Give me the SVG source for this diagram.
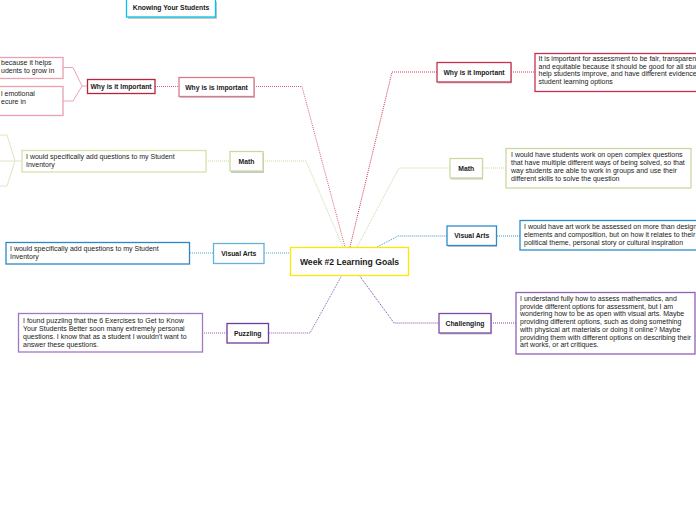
<svg xmlns="http://www.w3.org/2000/svg" width="696" height="520" viewBox="0 0 696 520">
<style>
text{font-family:"Liberation Sans",Arial,sans-serif;font-size:7px;fill:#1a1a1a}
.lbl{text-anchor:middle;font-weight:bold;font-size:6.8px}
.box{fill:#fff;stroke-width:1.3}
.sh{fill:#c8c8c8}
.c{fill:none;stroke-width:1;stroke-dasharray:1 1}
.s{fill:none;stroke-width:1}
</style>
<rect width="696" height="520" fill="#fff"/>
<g id="connectors">
<path class="c" stroke="#d9607e" d="M254 86.5H302L345 247"/>
<path class="c" stroke="#d9607e" d="M155 86.5H179"/>
<path class="s" stroke="#eaa5b4" d="M87 86L82 86L73 67.5H63M82 86L73 101H63"/>
<path class="c" stroke="#d9364f" d="M350 247L392 72H437"/>
<path class="c" stroke="#d9364f" d="M511 72H535"/>
<path class="c" stroke="#cbd79e" d="M263 161H306L343 247"/>
<path class="c" stroke="#cbd79e" d="M206 161H230"/>
<path class="s" stroke="#dfe6bf" d="M22 161H15L7 135H0M15 161H0M15 161L7 186H0"/>
<path class="c" stroke="#cbd79e" d="M357 247L399 168H450"/>
<path class="c" stroke="#cbd79e" d="M483 168H506"/>
<path class="c" stroke="#3a93cc" d="M377 247L398 236H447"/>
<path class="c" stroke="#3a93cc" d="M497 236H520"/>
<path class="c" stroke="#5aa6d6" d="M264 253H290M190 253H213"/>
<path class="c" stroke="#8a5cb4" d="M342 275L310 333H269M227 333H203"/>
<path class="c" stroke="#7a44a8" d="M359 275L394 323H439M491 323H516"/>
</g>
<g id="central">
<rect class="box" x="290.5" y="247.5" width="118" height="28" stroke="#ffe600" stroke-width="2"/>
<text x="349.5" y="265" text-anchor="middle" font-weight="bold" style="font-size:8.6px">Week #2 Learning Goals</text>
</g>
<g id="knowing">
<rect class="sh" x="128" y="2" width="89" height="17"/>
<rect class="box" x="126.5" y="-1" width="89" height="18" stroke="#00c4ef" stroke-width="1.6"/>
<text class="lbl" x="171" y="9.5">Knowing Your Students</text>
</g>
<g id="why-is-is">
<rect class="sh" x="180" y="79" width="75" height="19"/>
<rect class="box" x="179" y="77.5" width="75" height="19" stroke="#d77a8e" stroke-width="1.6"/>
<text class="lbl" x="216.5" y="89.5">Why is is important</text>
</g>
<g id="why-left">
<rect class="box" x="87.5" y="79.5" width="67.5" height="14" stroke="#b8233f"/>
<text class="lbl" x="121" y="89">Why is it Important</text>
</g>
<g id="pink-detail-1">
<rect class="box" x="-5" y="57.5" width="68" height="21" stroke="#eaa0b0"/>
<text x="1" y="65">because it helps</text>
<text x="1" y="73">udents to grow in</text>
</g>
<g id="pink-detail-2">
<rect class="box" x="-5" y="86.5" width="68" height="29" stroke="#eaa0b0"/>
<text x="1" y="96">l emotional</text>
<text x="1" y="104">ecure in</text>
</g>
<g id="why-right">
<rect class="sh" x="438" y="63.5" width="74" height="20"/>
<rect class="box" x="437" y="62.5" width="74" height="19.5" stroke="#c8304d"/>
<text class="lbl" x="474" y="74.5">Why is it Important</text>
</g>
<g id="why-right-detail">
<rect class="box" x="535" y="53.5" width="170" height="38" stroke="#c8304d"/>
<text x="538.5" y="61">It is important for assessment to be fair, transparent</text>
<text x="538.5" y="68.5">and equitable because it should be good for all students,</text>
<text x="538.5" y="76">help students improve, and have different evidence of</text>
<text x="538.5" y="83.5">student learning options</text>
</g>
<g id="math-left">
<rect class="sh" x="231" y="153" width="33" height="20"/>
<rect class="box" x="230" y="151.5" width="33" height="19.5" stroke="#cdd8a0"/>
<text class="lbl" x="246.5" y="163.5">Math</text>
</g>
<g id="math-left-detail">
<rect class="box" x="22" y="150.5" width="184" height="21.5" stroke="#d7e0b0" stroke-width="1.6"/>
<text x="26" y="159">I would specifically add questions to my Student</text>
<text x="26" y="167">Inventory</text>
</g>
<g id="math-right">
<rect class="sh" x="451" y="159.5" width="32" height="20"/>
<rect class="box" x="450" y="158.5" width="32.5" height="19.5" stroke="#cdd8a0" stroke-width="1.6"/>
<text class="lbl" x="466.2" y="170.5">Math</text>
</g>
<g id="math-right-detail">
<rect class="box" x="506" y="148.5" width="185" height="39.5" stroke="#cdd8a0"/>
<text x="511" y="157">I would have students work on open complex questions</text>
<text x="511" y="165">that have multiple different ways of being solved, so that</text>
<text x="511" y="173">way students are able to work in groups and use their</text>
<text x="511" y="181">different skills to solve the question</text>
</g>
<g id="visual-left">
<rect class="box" x="213.5" y="243.5" width="50.5" height="20" stroke="#68b0da" stroke-width="1.6"/>
<text class="lbl" x="238.7" y="256">Visual Arts</text>
</g>
<g id="visual-left-detail">
<rect class="box" x="6" y="242.5" width="183.5" height="21.5" stroke="#2f86c4"/>
<text x="10" y="251">I would specifically add questions to my Student</text>
<text x="10" y="259">Inventory</text>
</g>
<g id="visual-right">
<rect class="sh" x="448" y="227" width="49" height="20"/>
<rect class="box" x="447" y="226" width="49.5" height="19.5" stroke="#2f8ac8" stroke-width="1.6"/>
<text class="lbl" x="471.7" y="238">Visual Arts</text>
</g>
<g id="visual-right-detail">
<rect class="box" x="520" y="220.5" width="185" height="29.5" stroke="#2f8ac8"/>
<text x="524" y="229">I would have art work be assessed on more than design</text>
<text x="524" y="237">elements and composition, but on how it relates to their</text>
<text x="524" y="245">political theme, personal story or cultural inspiration</text>
</g>
<g id="puzzling">
<rect class="box" x="227" y="323.5" width="41.5" height="19.5" stroke="#6f3b9c" stroke-width="1.6"/>
<text class="lbl" x="247.7" y="336">Puzzling</text>
</g>
<g id="puzzling-detail">
<rect class="box" x="18.5" y="313.5" width="184" height="38.5" stroke="#9f78c2"/>
<text x="23" y="323">I found puzzling that the 6 Exercises to Get to Know</text>
<text x="23" y="331">Your Students Better soon many extremely personal</text>
<text x="23" y="339">questions. I know that as a student I wouldn't want to</text>
<text x="23" y="347">answer these questions.</text>
</g>
<g id="challenging">
<rect class="sh" x="440" y="314.5" width="52" height="20"/>
<rect class="box" x="439" y="313.5" width="52" height="19.5" stroke="#7c4aa6" stroke-width="1.6"/>
<text class="lbl" x="465" y="325.5">Challenging</text>
</g>
<g id="challenging-detail">
<rect class="box" x="516" y="292.5" width="179" height="61.5" stroke="#8f62b6"/>
<text x="520" y="301">I understand fully how to assess mathematics, and</text>
<text x="520" y="308.7">provide different options for assessment, but I am</text>
<text x="520" y="316.4">wondering how to be as open with visual arts. Maybe</text>
<text x="520" y="324.1">providing different options, such as doing something</text>
<text x="520" y="331.8">with physical art materials or doing it online? Maybe</text>
<text x="520" y="339.5">providing them with different options on describing their</text>
<text x="520" y="347.2">art works, or art critiques.</text>
</g>
</svg>
